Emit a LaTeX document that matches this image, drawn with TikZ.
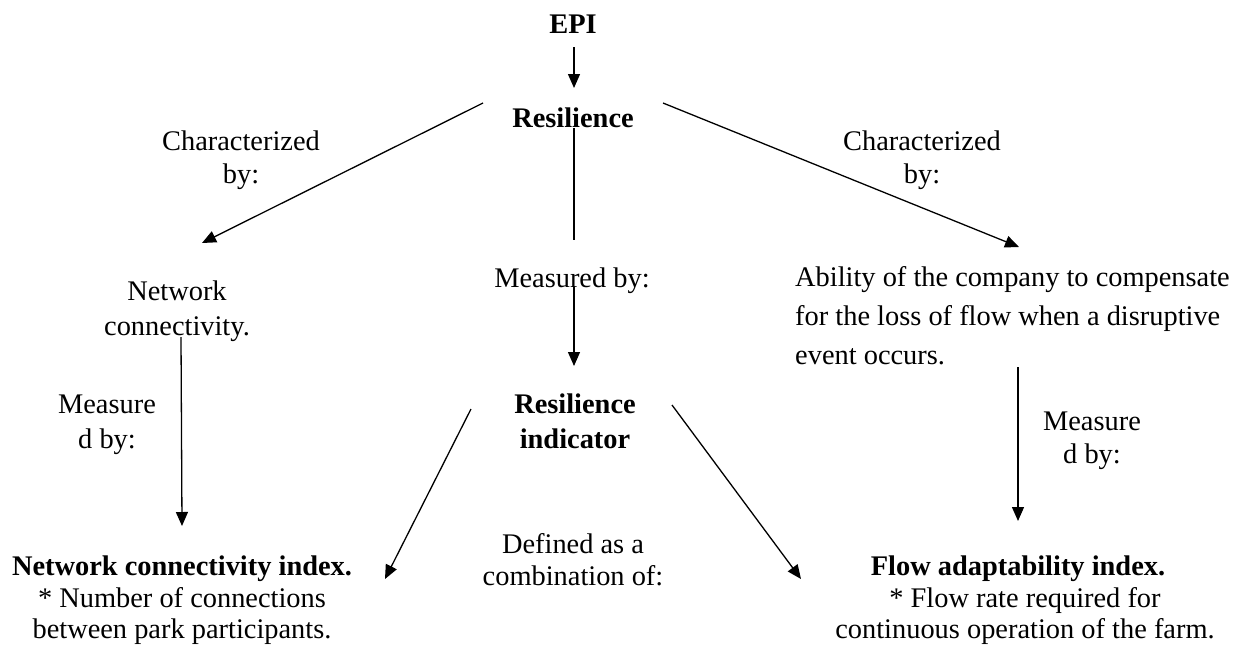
\documentclass[tikz,border=0pt]{standalone}
\usepackage{fontspec}
\setmainfont{Liberation Serif}
\usetikzlibrary{arrows.meta}
\begin{document}
\begin{tikzpicture}[x=1pt,y=-1pt,
  txt/.style={inner sep=0pt,anchor=base,align=center,font=\fontsize{28.4}{33}\selectfont},
  btxt/.style={txt,font=\fontsize{28.4}{33}\selectfont\bfseries},
  conn/.style={line width=1.3pt,-{Triangle[length=14pt,width=12pt]}},
  plain/.style={line width=1.3pt}]
\useasboundingbox (0,0) rectangle (1237,651);
% nodes (base anchor = baseline of the last line)
\node[btxt] (epi) at (573,33) {EPI};
\node[btxt] (res) at (573,127) {Resilience};
\node[txt] (charL) at (241,183) {Characterized\\by:};
\node[txt] (charR) at (922,183) {Characterized\\by:};
\node[txt] (netcon) at (177,335) {Network\\[2pt]connectivity.};
\node[txt] (meas) at (572,287) {Measured by:};
\node[txt, align=left, anchor=base west, font=\fontsize{28.4}{39}\selectfont] (abil) at (795,364)
  {Ability of the company to compensate\\for the loss of flow when a disruptive\\event occurs.};
\node[txt] (measL) at (107,448) {Measure\\[2pt]d by:};
\node[txt] (measR) at (1092,463) {Measure\\d by:};
\node[btxt] (resind) at (575,448) {Resilience\\[2pt]indicator};
\node[txt] (defd) at (573,585) {Defined as a\\[-1pt]combination of:};
\node[btxt] (nci) at (182,575) {Network connectivity index.};
\node[txt] (nci2) at (182,638) {* Number of connections\\[-2pt]between park participants.};
\node[btxt] (fai) at (1018,575) {Flow adaptability index.};
\node[txt] (fai2) at (1025,638) {* Flow rate required for\\[-2pt]continuous operation of the farm.};
% connector end points
\coordinate (epiS) at (574,47);
\coordinate (resN) at (574,88);
\coordinate (resS) at (574,128);
\coordinate (midA) at (574,240);
\coordinate (measS) at (574,287);
\coordinate (resindN) at (574,366);
\coordinate (resW) at (483,103);
\coordinate (netN) at (202,243);
\coordinate (resE) at (663,103);
\coordinate (abilN) at (1019,247);
\coordinate (netS) at (181,337);
\coordinate (nciN) at (182,526);
\coordinate (abilS) at (1018,367);
\coordinate (faiN) at (1018,521);
\coordinate (resindW) at (471,409);
\coordinate (nciE) at (385,579);
\coordinate (resindE) at (672,405);
\coordinate (faiW) at (801,579);
% connectors
\draw[conn] (epiS) -- (resN);
\draw[plain] (resS) -- (midA);
\draw[conn] (measS) -- (resindN);
\draw[conn] (resW) -- (netN);
\draw[conn] (resE) -- (abilN);
\draw[conn] (netS) -- (nciN);
\draw[conn] (abilS) -- (faiN);
\draw[conn] (resindW) -- (nciE);
\draw[conn] (resindE) -- (faiW);
\end{tikzpicture}
\end{document}
